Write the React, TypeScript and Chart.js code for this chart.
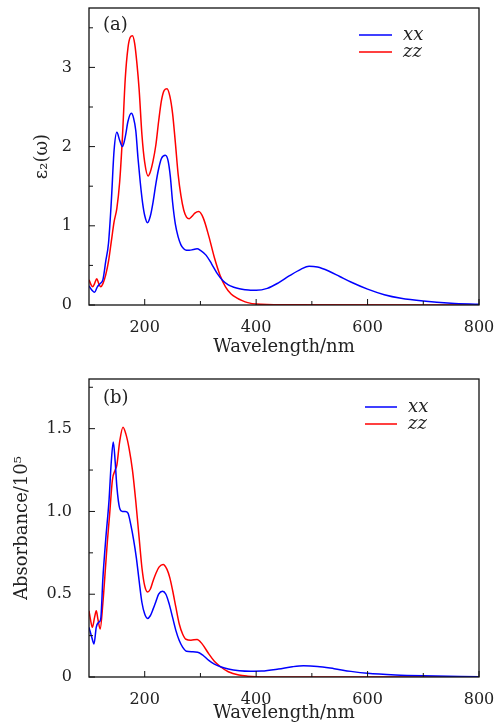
import React, { useEffect, useRef } from "react";
import { Chart, registerables } from "chart.js";

Chart.register(...registerables);

// ---------- Panel (a): epsilon_2 ----------
const topXxNm = [100, 105, 110, 115, 120, 125, 130, 135, 140, 145, 150, 155, 160, 165, 170, 176, 180, 184, 188, 192, 196, 200, 205, 210, 215, 220, 225, 230, 237, 242, 246, 250, 255, 260, 265, 270, 275, 280, 287, 294, 300, 310, 320, 330, 340, 350, 360, 370, 380, 390, 400, 420, 440, 460, 480, 495, 510, 530, 550, 570, 600, 630, 660, 700, 750, 800];
const topXxVal = [0.24, 0.19, 0.16, 0.23, 0.27, 0.32, 0.55, 0.78, 1.3, 1.95, 2.18, 2.08, 2.0, 2.12, 2.32, 2.42, 2.36, 2.2, 1.85, 1.55, 1.3, 1.13, 1.04, 1.12, 1.3, 1.53, 1.72, 1.85, 1.89, 1.82, 1.62, 1.3, 1.02, 0.86, 0.76, 0.71, 0.69, 0.69, 0.7, 0.71, 0.69, 0.63, 0.52, 0.4, 0.31, 0.255, 0.225, 0.205, 0.192, 0.185, 0.185, 0.21, 0.28, 0.37, 0.45, 0.49, 0.48, 0.43, 0.36, 0.29, 0.2, 0.13, 0.085, 0.05, 0.022, 0.008];

const topZzNm = [100, 104, 107, 110, 114, 117, 121, 125, 130, 135, 140, 145, 150, 155, 160, 165, 170, 174, 178, 182, 186, 190, 195, 200, 206, 210, 215, 220, 225, 230, 235, 240, 245, 250, 255, 260, 265, 270, 275, 280, 285, 290, 297, 305, 315, 325, 335, 345, 355, 365, 375, 385, 400, 450, 800];
const topZzVal = [0.32, 0.25, 0.23, 0.27, 0.33, 0.28, 0.23, 0.27, 0.38, 0.55, 0.8, 1.05, 1.22, 1.55, 2.12, 2.85, 3.25, 3.38, 3.4, 3.3, 3.05, 2.72, 2.15, 1.8, 1.63, 1.68, 1.82, 2.02, 2.32, 2.58, 2.71, 2.73, 2.64, 2.42, 2.05, 1.65, 1.38, 1.2, 1.11, 1.09, 1.12, 1.16, 1.18, 1.1, 0.87, 0.6, 0.38, 0.23, 0.14, 0.09, 0.055, 0.03, 0.012, 0.003, 0];

// ---------- Panel (b): absorbance ----------
const botXxNm = [100, 105, 109, 113, 117, 121, 125, 130, 136, 140, 143.6, 147, 150, 155, 160, 165, 170, 175, 180, 185, 190, 195, 200, 205, 210, 215, 220, 225, 232, 238, 244, 250, 256, 262, 268, 275, 285, 295, 305, 315, 325, 336, 350, 370, 390, 410, 440, 465, 485, 510, 540, 570, 600, 650, 700, 800];
const botXxVal = [0.3, 0.24, 0.2, 0.3, 0.33, 0.35, 0.6, 0.83, 1.07, 1.3, 1.42, 1.3, 1.15, 1.02, 1.0, 1.0, 0.99, 0.92, 0.83, 0.72, 0.58, 0.45, 0.38, 0.354, 0.37, 0.41, 0.455, 0.5, 0.518, 0.5, 0.44, 0.36, 0.28, 0.22, 0.18, 0.155, 0.152, 0.15, 0.13, 0.1, 0.078, 0.062, 0.048, 0.038, 0.035, 0.036, 0.048, 0.062, 0.068, 0.064, 0.05, 0.034, 0.022, 0.012, 0.007, 0.002];

const botZzNm = [100, 103, 106, 110, 113, 116, 120, 125, 130, 133, 137, 142, 147, 150, 155, 161, 166, 172, 178, 184, 190, 195, 200, 205, 210, 215, 220, 226, 233, 240, 245, 250, 256, 262, 268, 274, 283, 294, 303, 315, 325, 336, 350, 369, 385, 400, 450, 800];
const botZzVal = [0.4, 0.34, 0.3, 0.36, 0.4, 0.35, 0.29, 0.45, 0.68, 0.82, 0.98, 1.19, 1.25, 1.28, 1.42, 1.508, 1.47, 1.38, 1.25, 1.06, 0.84, 0.66, 0.55, 0.514, 0.53, 0.58, 0.625, 0.665, 0.68, 0.65, 0.6, 0.524, 0.42, 0.32, 0.26, 0.228, 0.222, 0.227, 0.2, 0.14, 0.095, 0.062, 0.032, 0.012, 0.005, 0.002, 0, 0];

// ---------- Ticks ----------
const xMajorTicks = [200, 400, 600, 800];
const xTickLabels = ["200", "400", "600", "800"];
const xMinorTicks = [300, 500, 700];

const topYMajor = [0, 1, 2, 3];
const topYLabels = ["0", "1", "2", "3"];
const topYMinor = [0.5, 1.5, 2.5, 3.5];

const botYMajor = [0, 0.5, 1, 1.5];
const botYLabels = ["0", "0.5", "1.0", "1.5"];
const botYMinor = [0.25, 0.75, 1.25, 1.75];

const seriesNames = ["xx", "zz"];
const seriesColors = ["#0000ff", "#ff0000"];

const FONT = '"DejaVu Serif", serif';
const TEXT = "#222";

const pts = (xs: number[], ys: number[]) => xs.map((x, i) => ({ x, y: ys[i] }));

const framePlugin = {
  id: "frame",
  afterDatasetsDraw(chart: any, _args: any, opts: any) {
    const { ctx, chartArea } = chart;
    const { left, right, top, bottom } = chartArea;
    const xs = chart.scales.x;
    const ys = chart.scales.y;
    ctx.save();
    ctx.strokeStyle = "#111";
    ctx.lineWidth = 1.3;
    ctx.strokeRect(left, top, right - left, bottom - top);
    ctx.lineWidth = 1;
    const seg = (x1: number, y1: number, x2: number, y2: number) => {
      ctx.beginPath();
      ctx.moveTo(x1, y1);
      ctx.lineTo(x2, y2);
      ctx.stroke();
    };
    opts.xMajor.forEach((v: number) => {
      const p = xs.getPixelForValue(v);
      seg(p, bottom, p, bottom - 6);
    });
    opts.xMinor.forEach((v: number) => {
      const p = xs.getPixelForValue(v);
      seg(p, bottom, p, bottom - 4);
    });
    opts.yMajor.forEach((v: number) => {
      const p = ys.getPixelForValue(v);
      seg(left, p, left + 6, p);
    });
    opts.yMinor.forEach((v: number) => {
      const p = ys.getPixelForValue(v);
      seg(left, p, left + 4, p);
    });
    // panel label
    ctx.fillStyle = TEXT;
    ctx.font = `18px ${FONT}`;
    ctx.textAlign = "left";
    ctx.textBaseline = "middle";
    ctx.fillText(opts.panel, left + 14, top + opts.panelDy);
    // legend
    ctx.font = `italic 18px ${FONT}`;
    ctx.lineWidth = 1.5;
    opts.names.forEach((name: string, i: number) => {
      const y = top + opts.legendDy + i * 17;
      ctx.strokeStyle = opts.colors[i];
      seg(right - opts.legendLine0, y, right - opts.legendLine1, y);
      ctx.fillStyle = TEXT;
      ctx.fillText(name, right - opts.legendText, y);
    });
    ctx.restore();
  },
};

type PanelProps = {
  xxNm: number[];
  xxVal: number[];
  zzNm: number[];
  zzVal: number[];
  yMax: number;
  yMajor: number[];
  yLabels: string[];
  yMinor: number[];
  yTitle: string;
  yTitlePad: number;
  padTop: number;
  xAxisHeight: number;
  xTitlePad: number;
  panel: string;
  panelDy: number;
  legendDy: number;
  legendLine0: number;
  legendLine1: number;
  legendText: number;
};

function Panel(p: PanelProps) {
  const ref = useRef<HTMLCanvasElement | null>(null);
  useEffect(() => {
    if (!ref.current) return;
    const chart = new Chart(ref.current, {
      type: "line",
      data: {
        datasets: [
          {
            label: seriesNames[0],
            data: pts(p.xxNm, p.xxVal),
            borderColor: seriesColors[0],
            backgroundColor: seriesColors[0],
            borderWidth: 1.5,
            pointRadius: 0,
            cubicInterpolationMode: "monotone",
            fill: false,
          },
          {
            label: seriesNames[1],
            data: pts(p.zzNm, p.zzVal),
            borderColor: seriesColors[1],
            backgroundColor: seriesColors[1],
            borderWidth: 1.5,
            pointRadius: 0,
            cubicInterpolationMode: "monotone",
            fill: false,
          },
        ],
      },
      options: {
        animation: false,
        responsive: false,
        events: [],
        layout: { padding: { top: p.padTop, right: 23, bottom: 0, left: 0 } },
        plugins: {
          legend: { display: false },
          tooltip: { enabled: false },
          frame: {
            xMajor: xMajorTicks,
            xMinor: xMinorTicks,
            yMajor: p.yMajor,
            yMinor: p.yMinor,
            panel: p.panel,
            panelDy: p.panelDy,
            names: seriesNames,
            colors: seriesColors,
            legendDy: p.legendDy,
            legendLine0: p.legendLine0,
            legendLine1: p.legendLine1,
            legendText: p.legendText,
          },
        } as any,
        scales: {
          x: {
            type: "linear",
            min: 100,
            max: 800,
            afterBuildTicks: (s: any) => {
              s.ticks = xMajorTicks.map((v) => ({ value: v }));
            },
            afterFit: (s: any) => {
              s.height = p.xAxisHeight;
              s.paddingLeft = 0;
              s.paddingRight = 0;
            },
            ticks: {
              autoSkip: false,
              maxRotation: 0,
              padding: 5,
              color: TEXT,
              font: { family: FONT, size: 16, lineHeight: 1.2 },
              callback: (_v: any, i: number) => xTickLabels[i],
            },
            grid: { display: false },
            border: { display: false },
            title: {
              display: true,
              text: "Wavelength/nm",
              color: TEXT,
              font: { family: FONT, size: 18, lineHeight: 1.2 },
              padding: { top: 0, bottom: p.xTitlePad },
            },
          },
          y: {
            type: "linear",
            min: 0,
            max: p.yMax,
            afterBuildTicks: (s: any) => {
              s.ticks = p.yMajor.map((v) => ({ value: v }));
            },
            afterFit: (s: any) => {
              s.width = 89;
              s.paddingTop = 0;
              s.paddingBottom = 0;
            },
            ticks: {
              autoSkip: false,
              padding: 9,
              color: TEXT,
              font: { family: FONT, size: 16, lineHeight: 1 },
              callback: (_v: any, i: number) => p.yLabels[i],
            },
            grid: { display: false },
            border: { display: false },
            title: {
              display: true,
              text: p.yTitle,
              color: TEXT,
              font: { family: FONT, size: 18, lineHeight: 1.2 },
              padding: { top: p.yTitlePad, bottom: 0 },
            },
          },
        },
      },
      plugins: [framePlugin as any],
    });
    return () => chart.destroy();
  }, []);
  return <canvas ref={ref} width={502} height={362} style={{ display: "block", width: 502, height: 362 }} />;
}

export default function App() {
  return (
    <div style={{ position: "absolute", left: 0, top: 0, width: 502, height: 724, background: "#fff" }}>
      <Panel
        xxNm={topXxNm}
        xxVal={topXxVal}
        zzNm={topZzNm}
        zzVal={topZzVal}
        yMax={3.75}
        yMajor={topYMajor}
        yLabels={topYLabels}
        yMinor={topYMinor}
        yTitle="ε₂(ω)"
        yTitlePad={32}
        padTop={8}
        xAxisHeight={57}
        xTitlePad={4}
        panel="(a)"
        panelDy={17}
        legendDy={27}
        legendLine0={120}
        legendLine1={87}
        legendText={76}
      />
      <Panel
        xxNm={botXxNm}
        xxVal={botXxVal}
        zzNm={botZzNm}
        zzVal={botZzVal}
        yMax={1.8}
        yMajor={botYMajor}
        yLabels={botYLabels}
        yMinor={botYMinor}
        yTitle="Absorbance/10⁵"
        yTitlePad={12}
        padTop={17}
        xAxisHeight={47}
        xTitlePad={0}
        panel="(b)"
        panelDy={19}
        legendDy={28}
        legendLine0={114}
        legendLine1={82}
        legendText={71}
      />
    </div>
  );
}
